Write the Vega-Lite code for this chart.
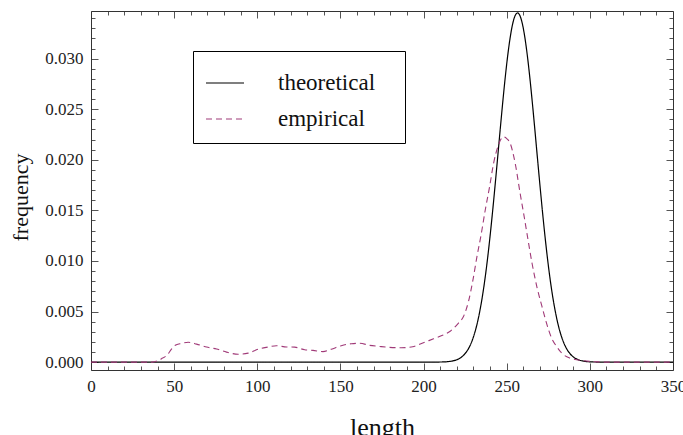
{
  "$schema": "https://vega.github.io/schema/vega-lite/v6.json",
  "width": 582,
  "height": 359,
  "autosize": {"type": "none"},
  "padding": {"left": 91, "top": 11, "right": 10, "bottom": 65},
  "background": "white",
  "datasets": {
    "theoretical": [
      {"length": 0, "frequency": 0, "series": "theoretical"},
      {"length": 150, "frequency": 0, "series": "theoretical"},
      {"length": 196.5, "frequency": 0, "series": "theoretical"},
      {"length": 206.5, "frequency": 0.000003, "series": "theoretical"},
      {"length": 211.5, "frequency": 0.0000177, "series": "theoretical"},
      {"length": 216.5, "frequency": 0.0000866, "series": "theoretical"},
      {"length": 220.5, "frequency": 0.000271, "series": "theoretical"},
      {"length": 223.5, "frequency": 0.000587, "series": "theoretical"},
      {"length": 226.5, "frequency": 0.001191, "series": "theoretical"},
      {"length": 228, "frequency": 0.001652, "series": "theoretical"},
      {"length": 229.5, "frequency": 0.002257, "series": "theoretical"},
      {"length": 231, "frequency": 0.00303, "series": "theoretical"},
      {"length": 232.5, "frequency": 0.0040, "series": "theoretical"},
      {"length": 234, "frequency": 0.0052, "series": "theoretical"},
      {"length": 235.5, "frequency": 0.00663, "series": "theoretical"},
      {"length": 237, "frequency": 0.00832, "series": "theoretical"},
      {"length": 238.5, "frequency": 0.01027, "series": "theoretical"},
      {"length": 240, "frequency": 0.01247, "series": "theoretical"},
      {"length": 241.5, "frequency": 0.01488, "series": "theoretical"},
      {"length": 243, "frequency": 0.01746, "series": "theoretical"},
      {"length": 244.5, "frequency": 0.02014, "series": "theoretical"},
      {"length": 246, "frequency": 0.02285, "series": "theoretical"},
      {"length": 247.5, "frequency": 0.02549, "series": "theoretical"},
      {"length": 249, "frequency": 0.02797, "series": "theoretical"},
      {"length": 250.5, "frequency": 0.03017, "series": "theoretical"},
      {"length": 252, "frequency": 0.032, "series": "theoretical"},
      {"length": 253.5, "frequency": 0.03338, "series": "theoretical"},
      {"length": 255, "frequency": 0.03423, "series": "theoretical"},
      {"length": 256.5, "frequency": 0.03452, "series": "theoretical"},
      {"length": 258, "frequency": 0.03423, "series": "theoretical"},
      {"length": 259.5, "frequency": 0.03338, "series": "theoretical"},
      {"length": 261, "frequency": 0.032, "series": "theoretical"},
      {"length": 262.5, "frequency": 0.03017, "series": "theoretical"},
      {"length": 264, "frequency": 0.02797, "series": "theoretical"},
      {"length": 265.5, "frequency": 0.02549, "series": "theoretical"},
      {"length": 267, "frequency": 0.02285, "series": "theoretical"},
      {"length": 268.5, "frequency": 0.02014, "series": "theoretical"},
      {"length": 270, "frequency": 0.01746, "series": "theoretical"},
      {"length": 271.5, "frequency": 0.01488, "series": "theoretical"},
      {"length": 273, "frequency": 0.01247, "series": "theoretical"},
      {"length": 274.5, "frequency": 0.01027, "series": "theoretical"},
      {"length": 276, "frequency": 0.00832, "series": "theoretical"},
      {"length": 277.5, "frequency": 0.00663, "series": "theoretical"},
      {"length": 279, "frequency": 0.0052, "series": "theoretical"},
      {"length": 280.5, "frequency": 0.0040, "series": "theoretical"},
      {"length": 282, "frequency": 0.00303, "series": "theoretical"},
      {"length": 283.5, "frequency": 0.002257, "series": "theoretical"},
      {"length": 285, "frequency": 0.001652, "series": "theoretical"},
      {"length": 286.5, "frequency": 0.001191, "series": "theoretical"},
      {"length": 289.5, "frequency": 0.000587, "series": "theoretical"},
      {"length": 292.5, "frequency": 0.000271, "series": "theoretical"},
      {"length": 296.5, "frequency": 0.0000866, "series": "theoretical"},
      {"length": 301.5, "frequency": 0.0000177, "series": "theoretical"},
      {"length": 306.5, "frequency": 0.000003, "series": "theoretical"},
      {"length": 316.5, "frequency": 0, "series": "theoretical"},
      {"length": 350, "frequency": 0, "series": "theoretical"}
    ],
    "empirical": [
      {"length": 0, "frequency": 0, "series": "empirical"},
      {"length": 20, "frequency": 0, "series": "empirical"},
      {"length": 37, "frequency": 0, "series": "empirical"},
      {"length": 40.5, "frequency": 0.00017, "series": "empirical"},
      {"length": 43, "frequency": 0.0004, "series": "empirical"},
      {"length": 45.5, "frequency": 0.00065, "series": "empirical"},
      {"length": 48.5, "frequency": 0.0013, "series": "empirical"},
      {"length": 51, "frequency": 0.0017, "series": "empirical"},
      {"length": 53.5, "frequency": 0.00182, "series": "empirical"},
      {"length": 58.5, "frequency": 0.00196, "series": "empirical"},
      {"length": 63.5, "frequency": 0.00178, "series": "empirical"},
      {"length": 69.5, "frequency": 0.00149, "series": "empirical"},
      {"length": 75.5, "frequency": 0.00129, "series": "empirical"},
      {"length": 81.5, "frequency": 0.00099, "series": "empirical"},
      {"length": 88.5, "frequency": 0.00078, "series": "empirical"},
      {"length": 94.5, "frequency": 0.00089, "series": "empirical"},
      {"length": 101.5, "frequency": 0.00133, "series": "empirical"},
      {"length": 106.5, "frequency": 0.00149, "series": "empirical"},
      {"length": 111.5, "frequency": 0.00162, "series": "empirical"},
      {"length": 117.5, "frequency": 0.0015, "series": "empirical"},
      {"length": 122.5, "frequency": 0.00148, "series": "empirical"},
      {"length": 128.5, "frequency": 0.00122, "series": "empirical"},
      {"length": 133.5, "frequency": 0.00116, "series": "empirical"},
      {"length": 139.5, "frequency": 0.00104, "series": "empirical"},
      {"length": 144.5, "frequency": 0.00128, "series": "empirical"},
      {"length": 150.5, "frequency": 0.00162, "series": "empirical"},
      {"length": 156.5, "frequency": 0.00182, "series": "empirical"},
      {"length": 161.5, "frequency": 0.00186, "series": "empirical"},
      {"length": 167.5, "frequency": 0.00166, "series": "empirical"},
      {"length": 173.5, "frequency": 0.00155, "series": "empirical"},
      {"length": 179.5, "frequency": 0.00146, "series": "empirical"},
      {"length": 186.5, "frequency": 0.00142, "series": "empirical"},
      {"length": 193.5, "frequency": 0.00152, "series": "empirical"},
      {"length": 198, "frequency": 0.0018, "series": "empirical"},
      {"length": 202, "frequency": 0.00205, "series": "empirical"},
      {"length": 206, "frequency": 0.0023, "series": "empirical"},
      {"length": 211, "frequency": 0.00262, "series": "empirical"},
      {"length": 216, "frequency": 0.00305, "series": "empirical"},
      {"length": 221, "frequency": 0.00386, "series": "empirical"},
      {"length": 224, "frequency": 0.00451, "series": "empirical"},
      {"length": 227, "frequency": 0.00599, "series": "empirical"},
      {"length": 229.7, "frequency": 0.00813, "series": "empirical"},
      {"length": 232.1, "frequency": 0.01043, "series": "empirical"},
      {"length": 234.5, "frequency": 0.0125, "series": "empirical"},
      {"length": 237.1, "frequency": 0.01504, "series": "empirical"},
      {"length": 239.7, "frequency": 0.01734, "series": "empirical"},
      {"length": 242.1, "frequency": 0.01965, "series": "empirical"},
      {"length": 245, "frequency": 0.02145, "series": "empirical"},
      {"length": 248, "frequency": 0.02227, "series": "empirical"},
      {"length": 250, "frequency": 0.0221, "series": "empirical"},
      {"length": 252.1, "frequency": 0.02162, "series": "empirical"},
      {"length": 255.1, "frequency": 0.01965, "series": "empirical"},
      {"length": 258.1, "frequency": 0.01665, "series": "empirical"},
      {"length": 260.5, "frequency": 0.01438, "series": "empirical"},
      {"length": 262.5, "frequency": 0.0124, "series": "empirical"},
      {"length": 265.2, "frequency": 0.0098, "series": "empirical"},
      {"length": 268.2, "frequency": 0.0074, "series": "empirical"},
      {"length": 271.2, "frequency": 0.0055, "series": "empirical"},
      {"length": 274.2, "frequency": 0.0037, "series": "empirical"},
      {"length": 277.2, "frequency": 0.0023, "series": "empirical"},
      {"length": 280.2, "frequency": 0.0015, "series": "empirical"},
      {"length": 283, "frequency": 0.0009, "series": "empirical"},
      {"length": 288, "frequency": 0.0004, "series": "empirical"},
      {"length": 296, "frequency": 0.00014, "series": "empirical"},
      {"length": 305, "frequency": 0.00002, "series": "empirical"},
      {"length": 310, "frequency": 0, "series": "empirical"},
      {"length": 350, "frequency": 0, "series": "empirical"}
    ]
  },
  "layer": [
    {
      "data": {"name": "theoretical"},
      "mark": {"type": "line", "strokeWidth": 1.2, "interpolate": "monotone", "clip": true},
      "encoding": {
        "x": {
          "field": "length", "type": "quantitative",
          "scale": {"domain": [0, 350], "nice": false, "zero": false},
          "axis": {
            "orient": "bottom", "title": "length", "format": "d",
            "values": [0,10,20,30,40,50,60,70,80,90,100,110,120,130,140,150,160,170,180,190,200,210,220,230,240,250,260,270,280,290,300,310,320,330,340,350],
            "labelExpr": "datum.value % 50 === 0 ? datum.label : ''",
            "tickSize": {"condition": {"test": "datum.value % 50 === 0", "value": -7}, "value": -4},
            "labelPadding": 15, "labelFlush": false, "labelOverlap": false,
            "titleFontSize": 26, "titlePadding": 17
          }
        },
        "y": {
          "field": "frequency", "type": "quantitative",
          "scale": {"domain": [-0.00078, 0.03471], "nice": false, "zero": false},
          "axis": {
            "orient": "left", "title": "frequency",
            "values": [0,0.001,0.002,0.003,0.004,0.005,0.006,0.007,0.008,0.009,0.01,0.011,0.012,0.013,0.014,0.015,0.016,0.017,0.018,0.019,0.02,0.021,0.022,0.023,0.024,0.025,0.026,0.027,0.028,0.029,0.03,0.031,0.032,0.033,0.034],
            "labelExpr": "round(datum.value*1000) % 5 === 0 ? format(datum.value, '.3f') : ''",
            "tickSize": {"condition": {"test": "round(datum.value*1000) % 5 === 0", "value": -7}, "value": -4},
            "labelPadding": 15, "labelOverlap": false, "labelFlush": false,
            "titleFontSize": 22, "titlePadding": 12, "titleY": 186
          }
        },
        "color": {"field": "series", "type": "nominal", "scale": {"domain": ["theoretical", "empirical"], "range": ["#000000", "#a03a78"]}, "legend": {"title": null, "labelExpr": "datum.label + '\u00a0\u00a0\u00a0\u200b'"}},
        "strokeDash": {"field": "series", "type": "nominal", "scale": {"domain": ["theoretical", "empirical"], "range": [[1, 0], [6, 4]]}, "legend": {"title": null, "labelExpr": "datum.label + '\u00a0\u00a0\u00a0\u200b'"}}
      }
    },
    {
      "data": {"name": "empirical"},
      "mark": {"type": "line", "strokeWidth": 1.1, "interpolate": "monotone", "clip": true},
      "encoding": {
        "x": {
          "field": "length", "type": "quantitative",
          "axis": {
            "orient": "top", "title": null, "labels": false,
            "values": [0,10,20,30,40,50,60,70,80,90,100,110,120,130,140,150,160,170,180,190,200,210,220,230,240,250,260,270,280,290,300,310,320,330,340,350],
            "tickSize": {"condition": {"test": "datum.value % 50 === 0", "value": -7}, "value": -4}
          }
        },
        "y": {
          "field": "frequency", "type": "quantitative",
          "axis": {
            "orient": "right", "title": null, "labels": false,
            "values": [0,0.001,0.002,0.003,0.004,0.005,0.006,0.007,0.008,0.009,0.01,0.011,0.012,0.013,0.014,0.015,0.016,0.017,0.018,0.019,0.02,0.021,0.022,0.023,0.024,0.025,0.026,0.027,0.028,0.029,0.03,0.031,0.032,0.033,0.034],
            "tickSize": {"condition": {"test": "round(datum.value*1000) % 5 === 0", "value": -7}, "value": -4}
          }
        },
        "color": {"field": "series", "type": "nominal", "legend": {"title": null, "labelExpr": "datum.label + '\u00a0\u00a0\u00a0\u200b'"}},
        "strokeDash": {"field": "series", "type": "nominal", "legend": {"title": null, "labelExpr": "datum.label + '\u00a0\u00a0\u00a0\u200b'"}}
      }
    }
  ],
  "resolve": {"axis": {"x": "independent", "y": "independent"}},
  "config": {
    "view": {"stroke": null},
    "font": "Liberation Serif",
    "axis": {
      "grid": false,
      "domain": true,
      "domainColor": "#333333",
      "domainWidth": 1,
      "tickColor": "#555555",
      "tickWidth": 1,
      "labelFont": "Liberation Serif",
      "labelFontSize": 17,
      "labelColor": "#222222",
      "titleFont": "Liberation Serif",
      "titleFontWeight": "normal",
      "titleColor": "#111111"
    },
    "legend": {
      "orient": "none",
      "legendX": 102,
      "legendY": 40,
      "strokeColor": "#000000",
      "fillColor": "white",
      "padding": 12,
      "labelFont": "Liberation Serif",
      "labelFontSize": 23,
      "labelColor": "#111111",
      "labelOffset": 33,
      "symbolType": "stroke",
      "symbolSize": 1444,
      "symbolStrokeWidth": 1.2,
      "rowPadding": 4
    }
  }
}
